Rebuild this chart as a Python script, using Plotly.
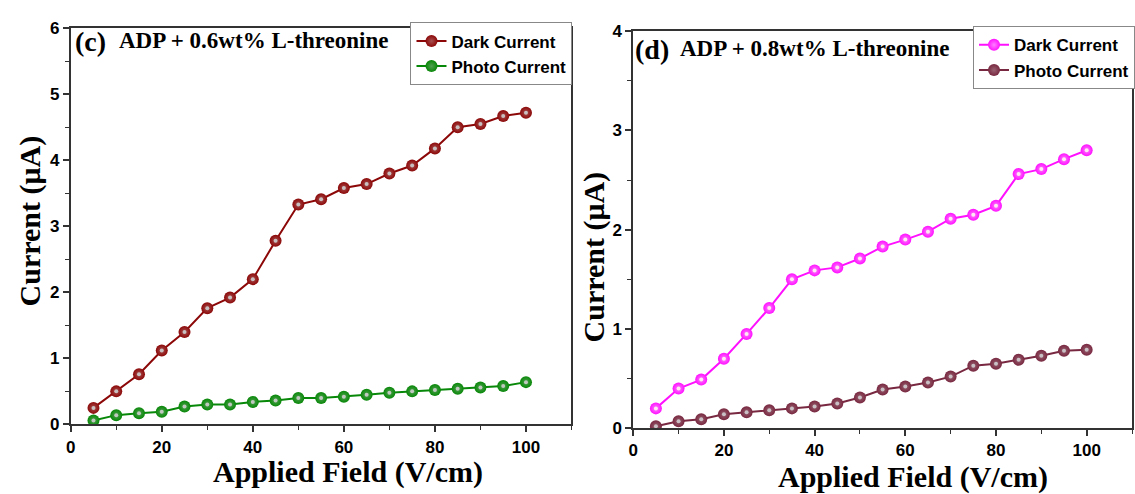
import plotly.graph_objects as go

field = [5, 10, 15, 20, 25, 30, 35, 40, 45, 50, 55, 60, 65, 70, 75, 80, 85, 90, 95, 100]

c_dark = [0.25, 0.50, 0.76, 1.12, 1.40, 1.76, 1.92, 2.20, 2.78, 3.33,
          3.41, 3.58, 3.64, 3.80, 3.92, 4.18, 4.50, 4.55, 4.67, 4.72]
c_photo = [0.06, 0.14, 0.17, 0.19, 0.27, 0.30, 0.30, 0.34, 0.36, 0.40,
           0.40, 0.42, 0.45, 0.48, 0.50, 0.52, 0.54, 0.56, 0.58, 0.64]

d_dark = [0.20, 0.40, 0.49, 0.70, 0.95, 1.21, 1.50, 1.59, 1.62, 1.71,
          1.83, 1.90, 1.98, 2.11, 2.15, 2.24, 2.56, 2.61, 2.71, 2.80]
d_photo = [0.02, 0.07, 0.09, 0.14, 0.16, 0.18, 0.20, 0.22, 0.25, 0.31,
           0.39, 0.42, 0.46, 0.52, 0.63, 0.65, 0.69, 0.73, 0.78, 0.79]

left_ticks_y = [0, 1, 2, 3, 4, 5, 6]
right_ticks_y = [0, 1, 2, 3, 4]
ticks_x = [0, 20, 40, 60, 80, 100]

W, H = 1135, 494

def px_x(p):
    return p / W

def px_y(p):
    return (H - p) / H

def series(x, y, name, color, mid, xa, ya, legend):
    return go.Scatter(
        x=x, y=y, name=name, mode="lines+markers",
        xaxis=xa, yaxis=ya, legend=legend,
        line=dict(color=color, width=2),
        marker=dict(size=12, color=color,
                    gradient=dict(type="radial", color=mid),
                    line=dict(width=0)),
    )

def highlight(x, y, hl, xa, ya):
    return go.Scatter(
        x=x, y=y, mode="markers", xaxis=xa, yaxis=ya, showlegend=False,
        hoverinfo="skip",
        marker=dict(size=4, color=hl, line=dict(width=0)),
    )

fig = go.Figure()
fig.add_trace(series(field, c_dark, "Dark Current", "#8c0808", "#a85050", "x", "y", "legend"))
fig.add_trace(highlight(field, c_dark, "#c8c0c0", "x", "y"))
fig.add_trace(series(field, c_photo, "Photo Current", "#088808", "#50a050", "x", "y", "legend"))
fig.add_trace(highlight(field, c_photo, "#c0c8c0", "x", "y"))
fig.add_trace(series(field, d_dark, "Dark Current", "#ff10ff", "#ff80ff", "x2", "y2", "legend2"))
fig.add_trace(highlight(field, d_dark, "#ffe8f0", "x2", "y2"))
fig.add_trace(series(field, d_photo, "Photo Current", "#782840", "#986070", "x2", "y2", "legend2"))
fig.add_trace(highlight(field, d_photo, "#c8c0c4", "x2", "y2"))

tickfont = dict(family="Liberation Sans, Arial", size=17, color="black", weight="bold")
axis_common = dict(
    showline=True, linecolor="#333333", linewidth=1.5, mirror=True,
    ticks="outside", ticklen=6, tickwidth=1.5, tickcolor="#333333",
    showgrid=False, zeroline=False, tickfont=tickfont,
)
minor_x = dict(ticks="outside", ticklen=4, dtick=10, tickcolor="#333333", tickwidth=1.2)
minor_y = dict(ticks="outside", ticklen=4, dtick=0.5, tickcolor="#333333", tickwidth=1.2)
legend_font = dict(family="Liberation Sans, Arial", size=17, color="black", weight="bold")

fig.update_layout(
    width=W, height=H,
    margin=dict(l=0, r=0, t=0, b=0),
    paper_bgcolor="white", plot_bgcolor="white",
    xaxis=dict(domain=[px_x(66), px_x(569)], range=[0, 110], anchor="y",
               tickvals=ticks_x, minor=minor_x, **axis_common),
    yaxis=dict(domain=[px_y(432), px_y(20)], range=[0, 6], anchor="x",
               tickvals=left_ticks_y, minor=minor_y, **axis_common),
    xaxis2=dict(domain=[px_x(631), px_x(1132)], range=[0, 110], anchor="y2",
                tickvals=ticks_x, minor=minor_x, **axis_common),
    yaxis2=dict(domain=[px_y(436), px_y(23)], range=[0, 4], anchor="x2",
                tickvals=right_ticks_y, minor=minor_y, **axis_common),
    legend=dict(x=px_x(570), y=px_y(14), xanchor="right", yanchor="top",
                bgcolor="white", bordercolor="#888888", borderwidth=1,
                font=legend_font, tracegroupgap=0, itemwidth=30),
    legend2=dict(x=px_x(1135), y=px_y(18), xanchor="right", yanchor="top",
                 bgcolor="white", bordercolor="#888888", borderwidth=1,
                 font=legend_font, tracegroupgap=0, itemwidth=30),
    showlegend=True,
)

title_font = dict(family="Liberation Serif, Times New Roman", size=30, color="black", weight="bold")
ann = []
ann.append(dict(text="Current (μA)", x=px_x(25), y=px_y(220), xref="paper", yref="paper",
                textangle=-90, showarrow=False, font=title_font, xanchor="center", yanchor="middle"))
ann.append(dict(text="Current (μA)", x=px_x(592), y=px_y(258), xref="paper", yref="paper",
                textangle=-90, showarrow=False, font=title_font, xanchor="center", yanchor="middle"))
ann.append(dict(text="Applied Field (V/cm)", x=px_x(345), y=px_y(482), xref="paper", yref="paper",
                showarrow=False, font=title_font, xanchor="center", yanchor="middle"))
ann.append(dict(text="Applied Field (V/cm)", x=px_x(912), y=px_y(487), xref="paper", yref="paper",
                showarrow=False, font=title_font, xanchor="center", yanchor="middle"))

big_font = dict(family="Liberation Serif, Times New Roman", size=28, color="black", weight="bold")
label_font = dict(family="Liberation Serif, Times New Roman", size=23, color="black", weight="bold")
ann.append(dict(text="(c)", x=px_x(68), y=px_y(34), xref="paper", yref="paper", showarrow=False,
                font=big_font, xanchor="left", yanchor="middle"))
ann.append(dict(text="ADP + 0.6wt% L-threonine", x=px_x(112), y=px_y(33), xref="paper", yref="paper",
                showarrow=False, font=label_font, xanchor="left", yanchor="middle"))
ann.append(dict(text="(d)", x=px_x(631), y=px_y(42), xref="paper", yref="paper", showarrow=False,
                font=big_font, xanchor="left", yanchor="middle"))
ann.append(dict(text="ADP + 0.8wt% L-threonine", x=px_x(676), y=px_y(41), xref="paper", yref="paper",
                showarrow=False, font=label_font, xanchor="left", yanchor="middle"))
fig.update_layout(annotations=ann)

fig.write_html("out.html")
